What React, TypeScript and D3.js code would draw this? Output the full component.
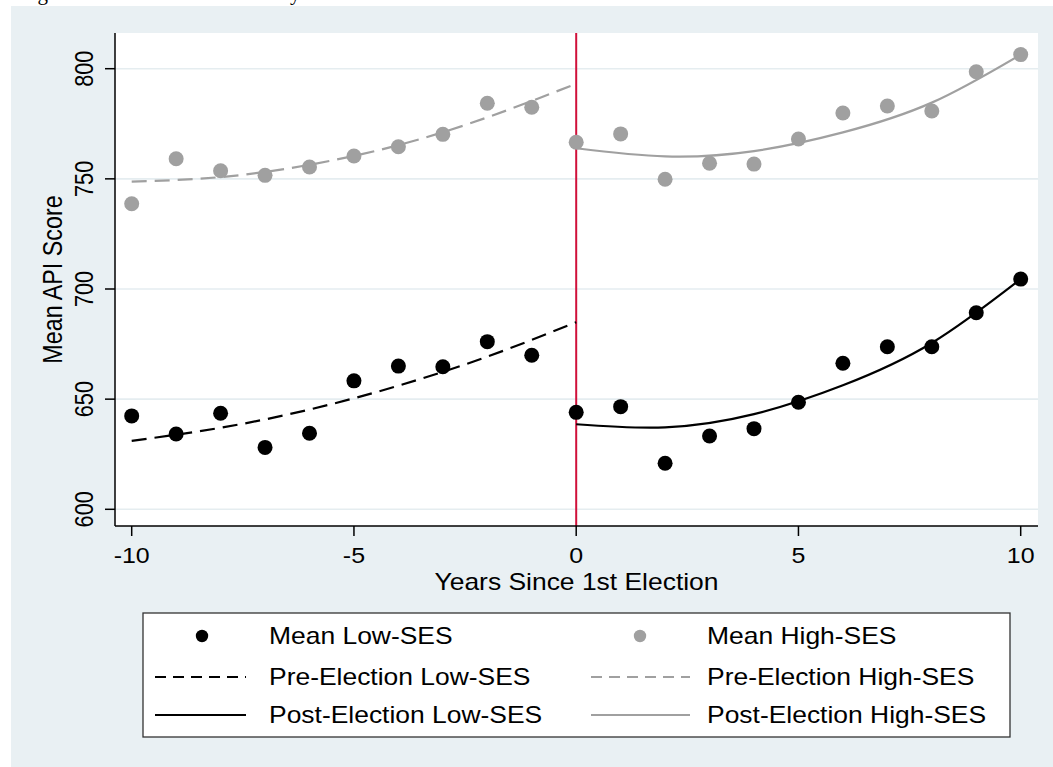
import React from "react";
import * as d3 from "d3";

// years since first election
const years = [-10, -9, -8, -7, -6, -5, -4, -3, -2, -1, 0, 1, 2, 3, 4, 5, 6, 7, 8, 9, 10];
const meanLow = [642.4, 634.2, 643.6, 628.1, 634.5, 658.3, 665.0, 664.7, 676.1, 669.9, 644.0, 646.6, 620.9, 633.3, 636.6, 648.6, 666.3, 673.8, 673.8, 689.2, 704.5];
const meanHigh = [738.7, 759.1, 753.7, 751.6, 755.4, 760.4, 764.6, 770.2, 784.3, 782.5, 766.6, 770.4, 749.8, 757.1, 756.7, 768.1, 779.9, 783.1, 780.8, 798.6, 806.4];

// fitted curves
const preYears = [-10, -8, -6, -4, -2, 0];
const preLowFit = [631.1, 637.0, 645.3, 656.1, 669.3, 684.9];
const preHighFit = [748.7, 750.8, 756.4, 765.3, 777.9, 793.2];
const postYears = [0, 2, 4, 6, 8, 10];
const postLowFit = [638.6, 637.2, 643.2, 656.3, 675.5, 704.5];
const postHighFit = [763.9, 760.2, 762.6, 771.1, 784.6, 806.4];

const xTicks = [-10, -5, 0, 5, 10];
const yTicks = [600, 650, 700, 750, 800];

const legendItems = [
  { label: "Mean Low-SES", kind: "dot", color: "#000" },
  { label: "Mean High-SES", kind: "dot", color: "#a0a0a0" },
  { label: "Pre-Election Low-SES", kind: "dash", color: "#000" },
  { label: "Pre-Election High-SES", kind: "dash", color: "#a0a0a0" },
  { label: "Post-Election Low-SES", kind: "solid", color: "#000" },
  { label: "Post-Election High-SES", kind: "solid", color: "#a0a0a0" },
];

const W = 1053;
const H = 767;
const plot = { left: 115, right: 1038, top: 33, bottom: 526 };
const font = "'Liberation Sans', Arial, sans-serif";
const stretch = 1.15; // the source text is a bit wider than plain Arial
const gray = "#a0a0a0";
const bg = "#e9f0f3";

export default function App() {
  const x = d3.scaleLinear().domain([-10, 10]).range([131.7, 1020.7]);
  const y = d3.scaleLinear().domain([600, 800]).range([509.3, 68.7]);

  const fitLine = (xs: number[]) =>
    d3
      .line<number>()
      .x((_, i) => x(xs[i]))
      .y((d) => y(d))
      .curve(d3.curveNatural);

  const pre = fitLine(preYears);
  const post = fitLine(postYears);

  const legendRows = [644, 685, 723];
  const cols = [
    { line0: 155, line1: 246, dot: 202, text: 269 },
    { line0: 591, line1: 690, dot: 640, text: 707 },
  ];

  return (
    <div style={{ position: "absolute", left: 0, top: 0 }}>
      <svg width={W} height={H} style={{ display: "block" }}>
        <rect x={0} y={0} width={W} height={H} fill="#fff" />
        <text x={20} y={0} fontFamily="'Liberation Serif', 'Times New Roman', serif" fontSize={21}>
          Figure 2. Achievement Trends by
        </text>
        <rect x={11} y={6} width={W - 11} height={H - 6} fill={bg} />
        <rect
          x={plot.left}
          y={plot.top}
          width={plot.right - plot.left}
          height={plot.bottom - plot.top}
          fill="#fff"
        />
        {yTicks.map((t) => (
          <line key={"g" + t} x1={plot.left} x2={plot.right} y1={y(t)} y2={y(t)} stroke="#e5edf0" strokeWidth={1.6} />
        ))}

        {/* election marker */}
        <line x1={x(0)} x2={x(0)} y1={plot.top} y2={plot.bottom} stroke="#d0103a" strokeWidth={2} />

        {/* fits */}
        <path d={pre(preHighFit) || ""} fill="none" stroke={gray} strokeWidth={2.2} strokeDasharray="15,8" />
        <path d={post(postHighFit) || ""} fill="none" stroke={gray} strokeWidth={2.2} />
        <path d={pre(preLowFit) || ""} fill="none" stroke="#000" strokeWidth={2.2} strokeDasharray="15,8" />
        <path d={post(postLowFit) || ""} fill="none" stroke="#000" strokeWidth={2.2} />

        {/* means */}
        {years.map((yr, i) => (
          <circle key={"h" + yr} cx={x(yr)} cy={y(meanHigh[i])} r={7.5} fill={gray} />
        ))}
        {years.map((yr, i) => (
          <circle key={"l" + yr} cx={x(yr)} cy={y(meanLow[i])} r={7.5} fill="#000" />
        ))}

        {/* axes */}
        <line x1={plot.left} x2={plot.left} y1={plot.top} y2={plot.bottom} stroke="#000" strokeWidth={1.5} />
        <line x1={plot.left} x2={plot.right} y1={plot.bottom} y2={plot.bottom} stroke="#000" strokeWidth={1.5} />
        {yTicks.map((t) => (
          <g key={"yt" + t}>
            <line x1={plot.left - 10} x2={plot.left} y1={y(t)} y2={y(t)} stroke="#000" strokeWidth={1.5} />
            <text
              transform={`translate(93,${y(t)}) scale(${stretch},1) rotate(-90)`}
              textAnchor="middle"
              fontFamily={font}
              fontSize={21.7}
            >
              {t}
            </text>
          </g>
        ))}
        {xTicks.map((t) => (
          <g key={"xt" + t}>
            <line x1={x(t)} x2={x(t)} y1={plot.bottom} y2={plot.bottom + 10} stroke="#000" strokeWidth={1.5} />
            <text
              transform={`translate(${x(t)},563) scale(${stretch},1)`}
              textAnchor="middle"
              fontFamily={font}
              fontSize={21.7}
            >
              {t}
            </text>
          </g>
        ))}
        <text
          transform={`translate(${(plot.left + plot.right) / 2},590) scale(${stretch},1)`}
          textAnchor="middle"
          fontFamily={font}
          fontSize={23}
        >
          Years Since 1st Election
        </text>
        <text
          transform={`translate(62,${(plot.top + plot.bottom) / 2}) scale(${stretch},1) rotate(-90)`}
          textAnchor="middle"
          fontFamily={font}
          fontSize={23.3}
        >
          Mean API Score
        </text>

        {/* legend */}
        <rect x={143} y={613} width={867} height={124} fill="#fff" stroke="#333" strokeWidth={1.3} />
        {legendItems.map((it, i) => {
          const c = cols[i % 2];
          const ry = legendRows[Math.floor(i / 2)];
          const my = ry - 8;
          return (
            <g key={it.label}>
              {it.kind === "dot" ? (
                <circle cx={c.dot} cy={my} r={6.2} fill={it.color} />
              ) : (
                <line
                  x1={c.line0}
                  x2={c.line1}
                  y1={my}
                  y2={my}
                  stroke={it.color}
                  strokeWidth={2.2}
                  strokeDasharray={it.kind === "dash" ? "11,7" : undefined}
                />
              )}
              <text
                transform={`translate(${c.text},${ry}) scale(${stretch},1)`}
                fontFamily={font}
                fontSize={23}
              >
                {it.label}
              </text>
            </g>
          );
        })}
      </svg>
    </div>
  );
}
